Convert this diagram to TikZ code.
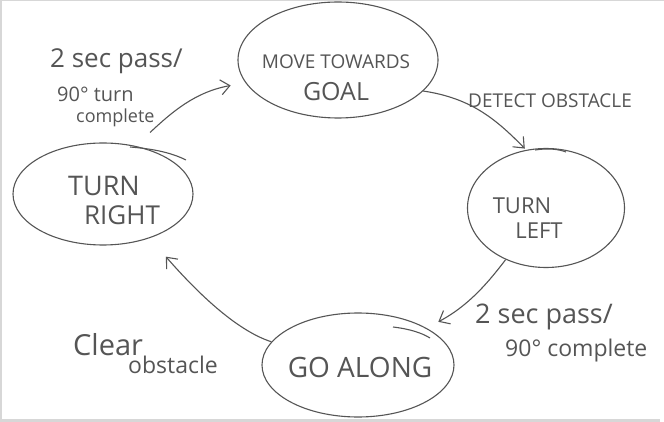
\documentclass[tikz,border=0pt]{standalone}
\usepackage{fontspec}
\setmainfont{Open Sans}
\usetikzlibrary{shapes.geometric,arrows.meta}
\definecolor{ink}{RGB}{85,85,85}
\definecolor{frame}{RGB}{215,215,215}
\newcommand{\fs}[1]{\fontsize{#1}{#1}\selectfont}
\begin{document}
\begin{tikzpicture}[x=1pt,y=-1pt,
  state/.style={ellipse,draw=ink,line width=1.1pt,inner sep=0pt},
  stext/.style={text=ink,align=center,inner sep=0pt},
  arr/.style={draw=ink,line width=1.1pt,-{Straight Barb[length=9pt,width=15pt]}},
  lbl/.style={text=ink,inner sep=0pt,anchor=west},
  stroke/.style={draw=ink,line width=1.1pt}]
\useasboundingbox (0,0) rectangle (664,422);
\fill[white] (0,0) rectangle (664,422);
\fill[frame] (0,0) rectangle (2,422);
\fill[frame] (0,419) rectangle (660,422);
\fill[frame] (0,0) rectangle (664,1);

% states
\node[state,minimum width=200pt,minimum height=116pt] (move) at (338,60) {};
\node[state,minimum width=157pt,minimum height=119pt] (left) at (546,208) {};
\node[state,minimum width=192pt,minimum height=104pt] (along) at (358,365) {};
\node[state,minimum width=180pt,minimum height=102pt] (right) at (103,194) {};

\node[stext] (moveT) at (336,62) {\fs{19}MOVE TOWARDS};
\node[stext] (moveG) at (336,92) {\fs{25}GOAL};
\node[stext] (leftT) at (522,206) {\fs{22}TURN};
\node[stext] (leftL) at (539,231) {\fs{22}LEFT};
\node[stext] (alongT) at (360,367) {\fs{28}GO ALONG};
\node[stext] (rightT) at (104,186) {\fs{27}TURN};
\node[stext] (rightR) at (122,215) {\fs{26}RIGHT};

% extra overshoot strokes of the sketch
\draw[stroke] (130,147) .. controls (155,149) and (172,153) .. (186,160);
\draw[stroke] (535,150) .. controls (548,148) and (558,149) .. (566,152);
\draw[stroke] (393,327) .. controls (410,329) and (422,333) .. (430,338);

% connectors
\draw[arr] (move.-20) .. controls (470,98) and (495,118) .. ([shift={(2,-2)}]left.112);
\draw[arr] (left.232) .. controls (490,280) and (470,305) .. ([shift={(7,-9)}]along.25);
\draw[arr] (along.165) .. controls (235,330) and (195,290) .. ([shift={(12,20)}]right.-40);
\draw[arr] ([shift={(8,-15)}]right.50) .. controls (172,112) and (195,92) .. ([shift={(-16,1)}]move.195);

% labels
\node[text=ink,inner sep=0pt] (dt) at (550,101) {\fs{19}DETECT OBSTACLE};
\node[lbl] (p1a) at (50,61) {\fs{26}2 sec pass/};
\node[lbl] (p1b) at (57,94) {\fs{20}90° turn};
\node[lbl] (p1c) at (76,118) {\fs{18}complete};
\node[lbl] (p2a) at (475,317) {\fs{27}2 sec pass/};
\node[lbl] (p2b) at (505,351) {\fs{23}90° complete};
\node[lbl] (c1) at (73,345) {\fs{29}Clear};
\node[lbl] (c2) at (128,365) {\fs{23}obstacle};
\end{tikzpicture}
\end{document}
